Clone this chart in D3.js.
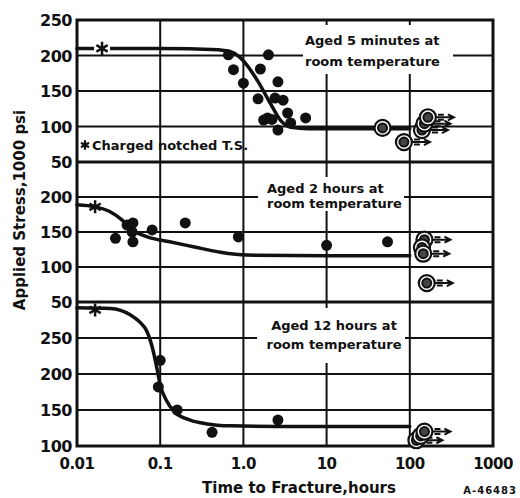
<!DOCTYPE html>
<html><head><meta charset="utf-8">
<script src="https://cdn.jsdelivr.net/npm/d3@7"></script>
<style>body{margin:0;background:#fff}svg{display:block}text{font-family:"DejaVu Sans",sans-serif;font-weight:bold;fill:#111}</style>
</head><body>
<svg id="c" width="520" height="498"></svg>
<script>
// ---- data (time in hours, stress in 1000 psi) ----
const xTicks = [0.01, 0.1, 1, 10, 100, 1000];
const xTickLabels = ["0.01", "0.1", "1.0", "10", "100", "1000"];

const topTicks = [250, 200, 150, 100, 50];
const midTicks = [200, 150, 100, 50];
const botTicks = [250, 200, 150, 100];

const topStar = [[0.02, 210]];
const midStar = [[0.0165, 186]];
const botStar = [[0.0165, 289]];

const topPoints = [[0.66, 201], [2.0, 201], [0.76, 180], [1.6, 181], [1.0, 161], [2.6, 163],
  [1.5, 139], [2.4, 140], [3.0, 137], [1.95, 112], [1.75, 109], [2.2, 110], [3.4, 119],
  [3.7, 105], [2.6, 95], [5.6, 112]];
const midPoints = [[0.029, 141], [0.04, 160], [0.047, 163], [0.046, 150], [0.047, 136],
  [0.08, 153], [0.2, 163], [0.87, 143], [10, 131], [54, 136]];
const botPoints = [[0.1, 219], [0.095, 182], [0.16, 150], [0.42, 119], [2.6, 136]];

// runouts: [time, stress, arrow(1/0)]
const topRunouts = [[47, 98, 0], [85, 78, 1], [140, 95, 1], [150, 104, 1], [165, 113, 1]];
const midRunouts = [[150, 139, 1], [140, 128, 0], [145, 119, 1], [160, 77, 1]];
const botRunouts = [[120, 108, 1], [135, 114, 0], [150, 120, 1]];

const topCurve = [[0.01, 210], [0.1, 210], [0.5, 208], [0.75, 204], [0.97, 194], [1.47, 165],
  [2.1, 133], [2.78, 109], [3.7, 99], [6, 97], [20, 97], [100, 97]];
const midCurve = [[0.01, 189], [0.0165, 186], [0.025, 179], [0.035, 167], [0.046, 153],
  [0.07, 143], [0.13, 136], [0.25, 129], [0.53, 121], [1.1, 117], [10, 116], [100, 116]];
const botCurve = [[0.01, 292], [0.025, 291], [0.044, 282], [0.057, 272], [0.07, 258],
  [0.082, 233], [0.092, 206], [0.1, 185], [0.118, 164], [0.15, 147], [0.23, 136],
  [0.35, 131], [0.7, 128], [5, 127], [100, 127]];

const topLabel = ["Aged 5 minutes at", "room temperature"];
const midLabel = ["Aged 2 hours at", "room temperature"];
const botLabel = ["Aged 12 hours at", "room temperature"];
const legendLabel = "Charged notched T.S.";

// ---- drawing ----
const svg = d3.select("#c");
const L = 77, R = 493, T = 20, B = 446;
const x = d3.scaleLog().domain([0.01, 1000]).range([L, R]);
const panels = [
  {y: d3.scaleLinear().domain([50, 250]).range([162, T]), ticks: topTicks, grid: [200, 150, 100],
   pts: topPoints, star: topStar, run: topRunouts, curve: topCurve, label: topLabel, halo: true,
   box: [303, 25, 150, 49], lx: 305, ly: [45, 66], anchor: "start"},
  {y: d3.scaleLinear().domain([50, 250]).range([302, 162]), ticks: midTicks, grid: [200, 150, 100],
   pts: midPoints, star: midStar, run: midRunouts, curve: midCurve, label: midLabel, halo: false,
   box: [258, 177, 146, 34], lx: 267, ly: [193, 208], anchor: "start"},
  {y: d3.scaleLinear().domain([100, 300]).range([B, 302]), ticks: botTicks, grid: [250, 200, 150],
   pts: botPoints, star: botStar, run: botRunouts, curve: botCurve, label: botLabel, halo: false,
   box: [257, 308, 148, 55], lx: 334, ly: [330, 349], anchor: "middle"}
];

const g = svg.append("g");
// horizontal grid
panels.forEach(p => {
  g.selectAll(null).data(p.grid).join("line")
    .attr("x1", L).attr("x2", R).attr("y1", d => p.y(d)).attr("y2", d => p.y(d))
    .attr("stroke", "#111").attr("stroke-width", 2);
});
// vertical grid
g.selectAll(null).data(xTicks.slice(1, -1)).join("line")
  .attr("x1", d => x(d)).attr("x2", d => x(d)).attr("y1", T).attr("y2", B)
  .attr("stroke", "#111").attr("stroke-width", 2);
// panel separators
[panels[0].y(50), panels[1].y(50)].forEach(yy => {
  g.append("line").attr("x1", L).attr("x2", R).attr("y1", yy).attr("y2", yy)
    .attr("stroke", "#111").attr("stroke-width", 3);
});
// frame
g.append("rect").attr("x", L).attr("y", T).attr("width", R - L).attr("height", B - T)
  .attr("fill", "none").attr("stroke", "#111").attr("stroke-width", 3);

// text boxes
panels.forEach(p => {
  g.append("rect").attr("x", p.box[0]).attr("y", p.box[1]).attr("width", p.box[2]).attr("height", p.box[3])
    .attr("fill", "#fff");
  p.label.forEach((t, i) => {
    g.append("text").attr("x", p.lx).attr("y", p.ly[i]).attr("text-anchor", p.anchor)
      .attr("font-size", 13).text(t);
  });
});

// curves
const line = (p) => d3.line().x(d => x(d[0])).y(d => p.y(d[1])).curve(d3.curveMonotoneX);
panels.forEach(p => {
  g.append("path").attr("d", line(p)(p.curve)).attr("fill", "none")
    .attr("stroke", "#111").attr("stroke-width", 3.5).attr("stroke-linecap", "round");
});

// points
panels.forEach(p => {
  g.selectAll(null).data(p.pts).join("circle")
    .attr("cx", d => x(d[0])).attr("cy", d => p.y(d[1])).attr("r", 5.5).attr("fill", "#111");
  // runouts
  const rg = g.selectAll(null).data(p.run).join("g")
    .attr("transform", d => `translate(${x(d[0])},${p.y(d[1])})`);
  rg.filter(d => d[2]).append("path")
    .attr("d", "M7,0 L26,0 M20,-3 L26,0 L20,3 M10,-2.5 L16,-2.5 M10,2.5 L16,2.5")
    .attr("fill", "none").attr("stroke", "#111").attr("stroke-width", 2);
  rg.append("circle").attr("r", 8).attr("fill", "#fff").attr("stroke", "#111").attr("stroke-width", 2.2);
  rg.append("circle").attr("r", 4.5).attr("fill", "#444").attr("stroke", "#111").attr("stroke-width", 2);
  // star
  const star = d3.symbol(d3.symbolAsterisk, 120);
  if (p.halo) {
    g.selectAll(null).data(p.star).join("rect")
      .attr("x", d => x(d[0]) - 8).attr("y", d => p.y(d[1]) - 5).attr("width", 16).attr("height", 10)
      .attr("fill", "#fff");
  }
  g.selectAll(null).data(p.star).join("path")
    .attr("transform", d => `translate(${x(d[0])},${p.y(d[1])})`)
    .attr("d", star()).attr("fill", "none").attr("stroke", "#111").attr("stroke-width", 2.5);
});

// legend
const lgStar = d3.symbol(d3.symbolAsterisk, 60);
g.append("path").attr("transform", "translate(85,145)").attr("d", lgStar())
  .attr("fill", "none").attr("stroke", "#111").attr("stroke-width", 2.2);
g.append("text").attr("x", 92).attr("y", 150).attr("font-size", 13).text(legendLabel);

// y tick labels
panels.forEach(p => {
  g.selectAll(null).data(p.ticks).join("text")
    .attr("x", 72).attr("y", d => p.y(d) + 6).attr("text-anchor", "end")
    .attr("font-size", 16).attr("letter-spacing", "-0.5").text(d => d);
});
// x tick labels
g.selectAll(null).data(xTicks).join("text")
  .attr("x", d => x(d)).attr("y", 469).attr("text-anchor", "middle")
  .attr("font-size", 15).attr("letter-spacing", "-0.5").text((d, i) => xTickLabels[i]);

// axis titles
g.append("text").attr("transform", "translate(25,210) rotate(-90)").attr("text-anchor", "middle")
  .attr("font-size", 15).text("Applied Stress,1000 psi");
g.append("text").attr("x", 299).attr("y", 493).attr("text-anchor", "middle")
  .attr("font-size", 15).text("Time to Fracture,hours");
g.append("text").attr("x", 517).attr("y", 494).attr("text-anchor", "end")
  .attr("font-size", 10).attr("letter-spacing", "1").text("A-46483");
</script>
</body></html>
